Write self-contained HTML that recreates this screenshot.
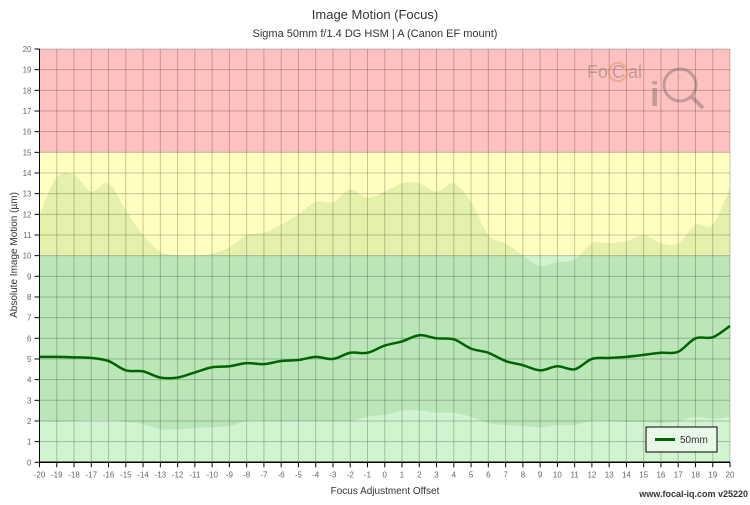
<!DOCTYPE html>
<html><head><meta charset="utf-8"><style>
body{margin:0;background:#fff;font-family:"Liberation Sans",sans-serif;}
svg text{font-family:"Liberation Sans",sans-serif;}
</style></head><body>
<svg id="chart" width="750" height="500" viewBox="0 0 750 500" xmlns="http://www.w3.org/2000/svg">
<text x="375" y="19" text-anchor="middle" font-size="13" fill="#333">Image Motion (Focus)</text>
<text x="375" y="37" text-anchor="middle" font-size="11" fill="#333">Sigma 50mm f/1.4 DG HSM | A (Canon EF mount)</text>
<g id="zones"></g>
<g id="band"></g>
<g id="grid"></g>
<g id="logo" opacity="0.35">
<text x="587" y="78" font-size="18" fill="#555">Fo</text>
<circle cx="618" cy="72" r="9" fill="none" stroke="#e08020" stroke-width="2"/>
<text x="612" y="78" font-size="18" fill="#555">C</text>
<text x="628" y="78" font-size="18" fill="#555">al</text>
<text x="650" y="106" font-size="34" font-weight="bold" fill="#555">i</text>
<circle cx="680" cy="85" r="16" fill="none" stroke="#555" stroke-width="3"/>
<line x1="692" y1="97" x2="703" y2="108" stroke="#555" stroke-width="4"/>
</g>
<g id="series"></g>
<g id="axes"></g>
<text transform="translate(17,255) rotate(-90)" text-anchor="middle" font-size="10" fill="#333">Absolute Image Motion (µm)</text>
<text x="385" y="494" text-anchor="middle" font-size="10" fill="#333">Focus Adjustment Offset</text>
<text x="748" y="497" text-anchor="end" font-size="9" font-weight="bold" fill="#333">www.focal-iq.com  v25220</text>
<g>
<rect x="646" y="427" width="71" height="25" fill="#e8f8e8" stroke="#000" stroke-width="1"/>
<line x1="655" y1="439.5" x2="675" y2="439.5" stroke="#006400" stroke-width="3"/>
<text x="680" y="443" font-size="10" fill="#333">50mm</text>
</g>
</svg>
<script>
const offsets=[];for(let i=-20;i<=20;i++)offsets.push(i);
const motion=[5.1,5.1,5.08,5.05,4.9,4.45,4.4,4.1,4.1,4.35,4.6,4.65,4.8,4.75,4.9,4.95,5.1,5.0,5.3,5.3,5.65,5.85,6.15,6.0,5.95,5.5,5.3,4.9,4.7,4.45,4.65,4.5,5.0,5.05,5.1,5.2,5.3,5.35,6.0,6.05,6.6];
const bandHigh=[12.0,13.8,13.9,13.1,13.5,12.2,11.0,10.2,10.0,10.0,10.1,10.4,11.0,11.1,11.5,12.0,12.6,12.6,13.2,12.8,13.1,13.5,13.5,13.1,13.5,12.6,11.0,10.6,10.0,9.5,9.7,9.8,10.6,10.6,10.7,11.0,10.6,10.6,11.5,11.5,13.3];
const bandLow=[2.0,1.95,2.0,2.05,2.05,1.95,1.85,1.6,1.6,1.65,1.7,1.75,2.0,2.0,2.0,2.0,2.0,2.0,2.0,2.2,2.3,2.5,2.5,2.4,2.4,2.2,1.9,1.8,1.75,1.7,1.8,1.8,2.0,2.0,1.95,1.95,1.9,2.0,2.2,2.1,2.2];
const yTicks=[0,1,2,3,4,5,6,7,8,9,10,11,12,13,14,15,16,17,18,19,20];
const L=39.5,R=730,T=49,B=462.3;
const X=v=>L+(v+20)/40*(R-L), Y=v=>B-v/20*(B-T);
const NS="http://www.w3.org/2000/svg";
function mk(p,t,a){const e=document.createElementNS(NS,t);for(const k in a)e.setAttribute(k,a[k]);p.appendChild(e);return e;}
function smooth(xs,ys){let d="M"+xs[0]+","+ys[0];for(let i=0;i<xs.length-1;i++){const x0=xs[i>0?i-1:i],y0=ys[i>0?i-1:i],x1=xs[i],y1=ys[i],x2=xs[i+1],y2=ys[i+1],x3=xs[i+2<xs.length?i+2:i+1],y3=ys[i+2<xs.length?i+2:i+1];d+=" C"+(x1+(x2-x0)/6)+","+(y1+(y2-y0)/6)+" "+(x2-(x3-x1)/6)+","+(y2-(y3-y1)/6)+" "+x2+","+y2;}return d;}
const zones=document.getElementById('zones');
[[15,20,'#ffc0c0','zone-poor'],[10,15,'#ffffc0','zone-fair'],[0,10,'#d0f4d0','zone-good']].forEach(z=>{
const r=mk(zones,'rect',{x:L,y:Y(z[1]),width:R-L,height:Y(z[0])-Y(z[1]),fill:z[2]});

});
const xs=offsets.map(X);
const band=document.getElementById('band');
const up=smooth(xs,bandHigh.map(Y));
const lowRevX=xs.slice().reverse(),lowRevY=bandLow.map(Y).reverse();
const lo=smooth(lowRevX,lowRevY).replace(/^M/,"L");
const bp=mk(band,'path',{d:up+" "+lo+" Z",fill:'rgba(40,140,20,0.12)'});


const grid=document.getElementById('grid');
offsets.forEach(o=>{if(o>-20)mk(grid,'line',{x1:X(o),x2:X(o),y1:T,y2:B,stroke:'rgba(0,0,0,0.22)','stroke-width':1});});
yTicks.forEach(v=>{if(v>0)mk(grid,'line',{x1:L,x2:R,y1:Y(v),y2:Y(v),stroke:'rgba(0,0,0,0.22)','stroke-width':1});});
const s=document.getElementById('series');
const sp=mk(s,'path',{d:smooth(xs,motion.map(Y)),fill:'none',stroke:'#006400','stroke-width':2.5});


const ax=document.getElementById('axes');
mk(ax,'line',{x1:L,x2:L,y1:T,y2:B,stroke:'#000','stroke-width':1});
mk(ax,'line',{x1:L,x2:R,y1:B,y2:B,stroke:'#000','stroke-width':1.5});
yTicks.forEach(v=>{mk(ax,'line',{x1:L-5,x2:L,y1:Y(v),y2:Y(v),stroke:'#000'});
const t=mk(ax,'text',{x:L-8,y:Y(v)+3,'text-anchor':'end','font-size':8,fill:'#666'});t.textContent=v;

});
offsets.forEach(o=>{mk(ax,'line',{x1:X(o),x2:X(o),y1:B,y2:B+5,stroke:'#000'});
const t=mk(ax,'text',{x:X(o),y:B+15,'text-anchor':'middle','font-size':8,fill:'#666'});t.textContent=o;

});
</script>
</body></html>
